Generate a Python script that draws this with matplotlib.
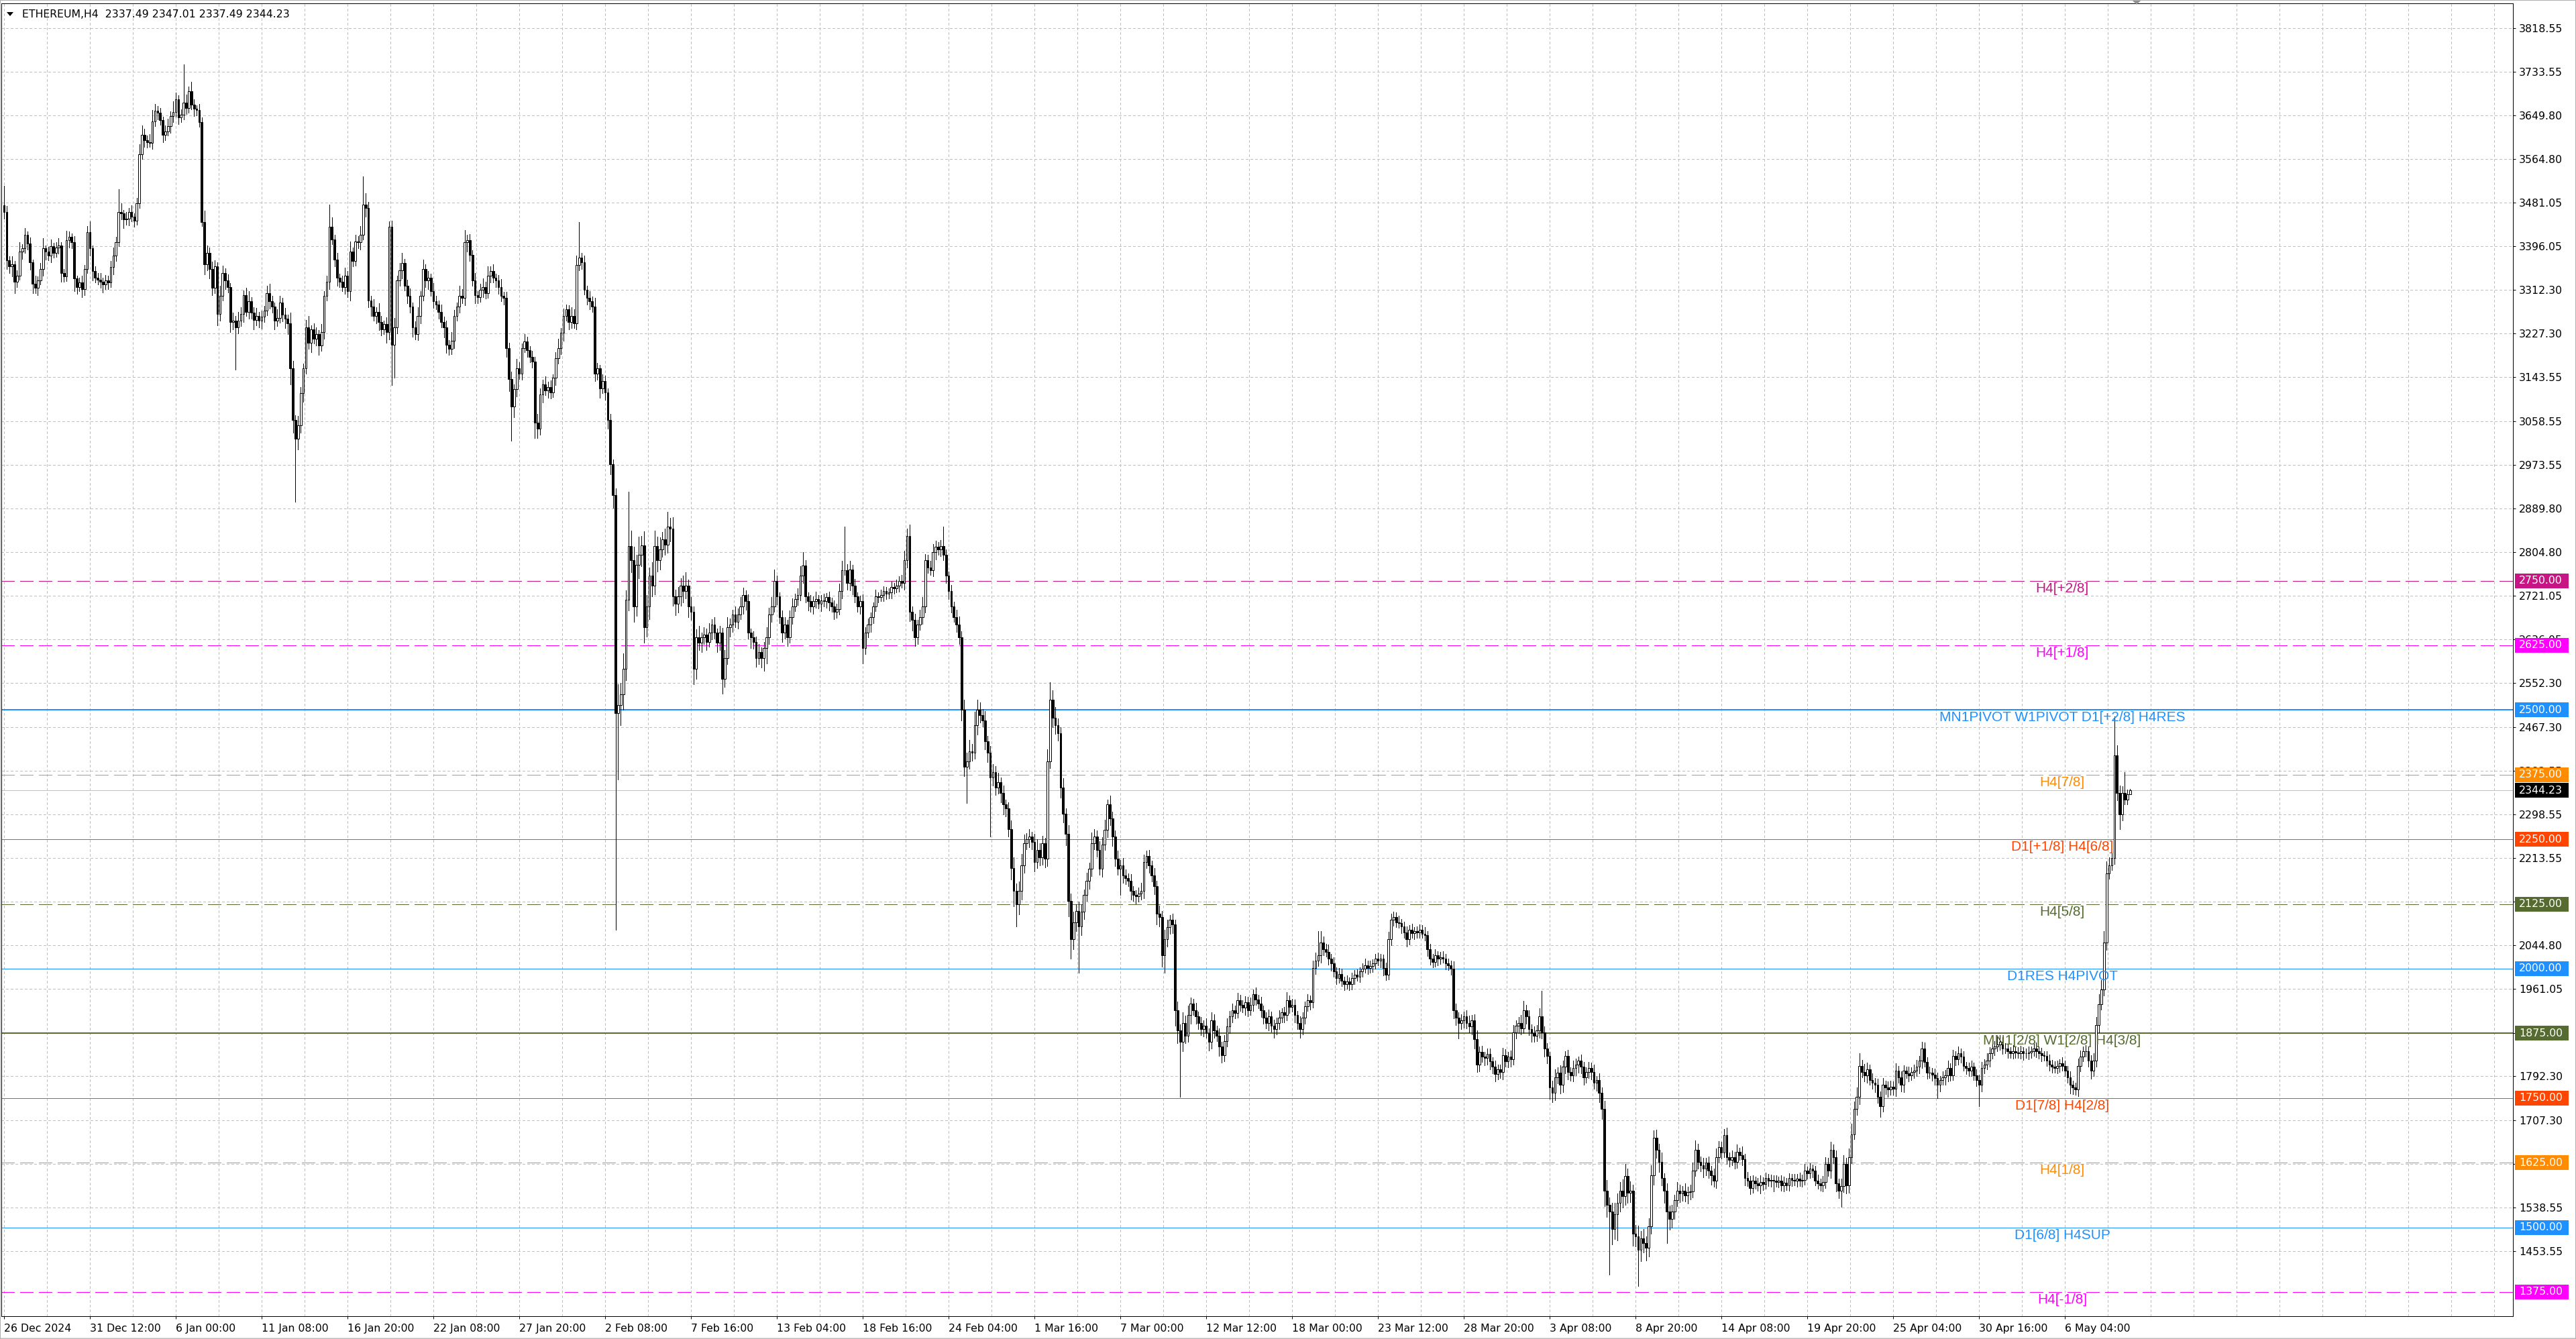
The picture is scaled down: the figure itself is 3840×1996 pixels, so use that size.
#!/usr/bin/env python3
'''
MT4 style H4 candlestick chart of ETHEREUM with pivot / octave levels
'''
import numpy as np
import matplotlib
matplotlib.use('Agg')
import matplotlib.pyplot as plt
import matplotlib.transforms as mtransforms
from matplotlib.patches import Rectangle, Polygon

title_text = 'ETHEREUM,H4  2337.49 2347.01 2337.49 2344.23'

# H4 closes, oldest first (open of each bar = previous close)
first_open = 3476.0
closes = [
    3462, 3369, 3358, 3362, 3328, 3340, 3386, 3392, 3418, 3402,
    3366, 3324, 3316, 3330, 3352, 3392, 3386, 3378, 3396, 3384,
    3394, 3398, 3344, 3338, 3408, 3414, 3404, 3334, 3318, 3326,
    3314, 3352, 3424, 3392, 3348, 3336, 3332, 3328, 3322, 3330,
    3326, 3356, 3378, 3404, 3462, 3460, 3448, 3450, 3462, 3454,
    3446, 3480, 3574, 3612, 3602, 3598, 3596, 3638, 3658, 3654,
    3640, 3612, 3618, 3628, 3648, 3656, 3680, 3646, 3650, 3674,
    3664, 3696, 3670, 3662, 3660, 3637, 3443, 3362, 3384, 3352,
    3316, 3358, 3265, 3300, 3345, 3330, 3318, 3250, 3252, 3240,
    3252, 3266, 3302, 3270, 3290, 3268, 3254, 3262, 3252, 3260,
    3272, 3306, 3290, 3280, 3252, 3258, 3288, 3264, 3256, 3248,
    3160, 3060, 3024, 3050, 3112, 3160, 3240, 3210, 3236, 3218,
    3226, 3204, 3230, 3300, 3328, 3434, 3410, 3370, 3336, 3328,
    3318, 3340, 3310, 3386, 3368, 3406, 3404, 3419, 3477, 3470,
    3291, 3280, 3262, 3270, 3250, 3236, 3246, 3230, 3434, 3206,
    3240, 3330, 3350, 3364, 3320, 3300, 3280, 3240, 3226, 3262,
    3300, 3352, 3330, 3336, 3310, 3290, 3284, 3270, 3250, 3240,
    3206, 3198, 3214, 3262, 3280, 3300, 3296, 3404, 3408, 3380,
    3330, 3302, 3298, 3312, 3318, 3306, 3340, 3348, 3336, 3330,
    3318, 3300, 3296, 3200, 3140, 3086, 3120, 3160, 3150, 3200,
    3212, 3196, 3182, 3174, 3056, 3044, 3110, 3130, 3118, 3124,
    3114, 3142, 3180, 3200, 3229, 3262, 3274, 3250, 3262, 3248,
    3360, 3374, 3366, 3312, 3296, 3290, 3280, 3150, 3160, 3122,
    3136, 3114, 3060, 2975, 2915, 2494, 2510, 2530, 2580, 2713,
    2817, 2790, 2700, 2780, 2800, 2818, 2660, 2700, 2760, 2740,
    2817, 2790, 2810, 2830, 2820, 2855, 2850, 2720, 2705, 2720,
    2740, 2730, 2740, 2700, 2690, 2580, 2640, 2630, 2640, 2646,
    2632, 2650, 2665, 2650, 2630, 2650, 2560, 2600, 2660, 2665,
    2684, 2670, 2684, 2700, 2722, 2710, 2650, 2640, 2632, 2600,
    2612, 2600, 2620, 2640, 2684, 2700, 2750, 2720, 2680, 2650,
    2665, 2640, 2680, 2700, 2715, 2722, 2760, 2779, 2720, 2710,
    2700, 2710, 2715, 2705, 2712, 2710, 2718, 2708, 2700, 2690,
    2695, 2730, 2770, 2770, 2745, 2772, 2740, 2720, 2700, 2710,
    2620, 2650, 2665, 2680, 2700, 2720, 2718, 2722, 2730, 2725,
    2728, 2738, 2735, 2740, 2750, 2745, 2790, 2836, 2690, 2674,
    2640, 2665, 2680, 2700, 2790, 2775, 2770, 2805, 2815, 2810,
    2817, 2800, 2760, 2730, 2700, 2680, 2665, 2640, 2500, 2390,
    2400, 2420, 2418, 2470, 2500, 2490, 2480, 2440, 2417, 2370,
    2380, 2350, 2360, 2340, 2318, 2310, 2270, 2195, 2150, 2125,
    2150, 2200, 2243, 2250, 2255, 2245, 2206, 2230, 2215, 2243,
    2212, 2400, 2520, 2485, 2470, 2455, 2350, 2300, 2261, 2131,
    2057, 2090, 2112, 2081, 2110, 2143, 2170, 2193, 2243, 2255,
    2230, 2193, 2240, 2268, 2317, 2290, 2255, 2212, 2193, 2200,
    2180, 2175, 2170, 2150, 2143, 2140, 2145, 2150, 2206, 2218,
    2200, 2180, 2160, 2106, 2100, 2026, 2057, 2080, 2094, 2085,
    1920, 1880, 1858, 1895, 1870, 1910, 1932, 1920, 1908, 1895,
    1883, 1890, 1876, 1858, 1900, 1880, 1870, 1850, 1833, 1860,
    1889, 1908, 1920, 1914, 1939, 1930, 1925, 1935, 1920, 1930,
    1951, 1940, 1932, 1920, 1905, 1895, 1908, 1890, 1883, 1895,
    1905, 1915, 1910, 1939, 1926, 1930, 1910, 1895, 1883, 1905,
    1927, 1939, 1935, 2001, 2015, 2026, 2050, 2038, 2032, 2019,
    2010, 1995, 1982, 1990, 1976, 1970, 1975, 1970, 1982, 1988,
    1985, 1995, 2000, 2007, 2001, 2005, 2010, 2019, 2015, 2019,
    2001, 1988, 2057, 2094, 2100, 2090, 2088, 2081, 2070, 2057,
    2075, 2069, 2072, 2070, 2075, 2068, 2065, 2038, 2020, 2013,
    2026, 2019, 2022, 2019, 2010, 2007, 2000, 1920, 1905, 1895,
    1900, 1908, 1895, 1889, 1900, 1864, 1814, 1839, 1830, 1827,
    1835, 1821, 1810, 1796, 1805, 1800, 1833, 1821, 1830, 1825,
    1877, 1890, 1895, 1885, 1920, 1908, 1883, 1875, 1870, 1880,
    1908, 1877, 1846, 1831, 1771, 1760, 1790, 1799, 1775, 1810,
    1831, 1800, 1794, 1808, 1815, 1822, 1810, 1790, 1800, 1808,
    1800, 1780, 1785, 1760, 1729, 1571, 1544, 1530, 1497, 1525,
    1548, 1571, 1560, 1599, 1567, 1571, 1488, 1483, 1456, 1479,
    1470, 1460, 1502, 1600, 1673, 1650, 1627, 1595, 1571, 1530,
    1516, 1530, 1553, 1571, 1565, 1571, 1562, 1568, 1570, 1609,
    1650, 1627, 1620, 1613, 1625, 1609, 1600, 1590, 1636, 1655,
    1645, 1678, 1636, 1630, 1636, 1627, 1646, 1640, 1632, 1595,
    1590, 1576, 1590, 1585, 1581, 1588, 1584, 1595, 1590, 1592,
    1590, 1588, 1590, 1581, 1586, 1581, 1595, 1592, 1590, 1594,
    1590, 1592, 1609, 1605, 1613, 1609, 1590, 1585, 1581, 1588,
    1622, 1609, 1650, 1636, 1585, 1571, 1580, 1622, 1581, 1636,
    1680, 1729, 1752, 1812, 1800, 1794, 1805, 1785, 1780, 1775,
    1752, 1734, 1775, 1770, 1766, 1772, 1768, 1803, 1790, 1775,
    1803, 1798, 1794, 1800, 1803, 1810, 1822, 1845, 1820, 1799,
    1799, 1795, 1789, 1775, 1785, 1790, 1794, 1808, 1794, 1831,
    1825, 1836, 1830, 1812, 1808, 1803, 1810, 1794, 1785, 1775,
    1808, 1815, 1822, 1836, 1845, 1850, 1854, 1859, 1845, 1845,
    1840, 1836, 1840, 1838, 1836, 1840, 1836, 1836, 1838, 1840,
    1845, 1840, 1836, 1833, 1831, 1822, 1815, 1810, 1808, 1812,
    1817, 1812, 1803, 1790, 1775, 1770, 1766, 1812, 1830, 1840,
    1840, 1822, 1803, 1822, 1891, 1931, 1960, 2050, 2184, 2199,
    2214, 2412, 2340, 2298, 2340, 2327, 2337.49, 2344.23,
]

# wick above the body and below the body, price units
wick_up = [
    37, 12, 8, 15, 6, 10, 18, 9, 14, 7, 11, 5, 16, 8, 12, 20, 6, 9, 13, 7,
    10, 14, 6, 9, 18, 11, 7, 12, 5, 9, 14, 8, 12, 20, 6, 10, 8, 13, 7, 11,
    9, 12, 16, 10, 45, 18, 7, 12, 9, 14, 6, 10, 20, 18, 12, 8, 15, 22, 14, 9,
    10, 7, 12, 15, 9, 20, 14, 8, 11, 74, 16, 9, 18, 10, 7, 12, 9, 22, 14, 10,
    15, 11, 8, 20, 14, 9, 12, 7, 16, 10, 18, 12, 9, 14, 20, 8, 11, 15, 7, 12,
    9, 14, 18, 10, 7, 16, 12, 9, 13, 8, 20, 15, 10, 18, 12, 9, 14, 22, 8, 11,
    13, 9, 16, 10, 12, 43, 18, 9, 14, 7, 11, 15, 9, 20, 8, 13, 10, 16, 54, 22,
    12, 9, 14, 8, 16, 11, 7, 13, 10, 12, 18, 9, 14, 20, 8, 12, 15, 7, 11, 16,
    10, 18, 9, 13, 7, 15, 11, 8, 14, 10, 12, 9, 16, 11, 7, 20, 13, 24, 10, 12,
    9, 14, 8, 12, 16, 10, 18, 9, 13, 7, 11, 15, 8, 12, 10, 14, 9, 18, 12, 8,
    14, 10, 7, 12, 9, 16, 11, 8, 15, 10, 13, 7, 12, 18, 9, 14, 10, 8, 16, 12,
    18, 69, 10, 12, 8, 14, 9, 16, 11, 7, 13, 10, 8, 12, 9, 14, 40, 22, 30, 18,
    105, 30, 25, 20, 35, 18, 28, 22, 15, 26, 30, 18, 24, 14, 20, 28, 16, 22, 12, 18,
    14, 20, 26, 12, 18, 10, 16, 22, 9, 14, 12, 18, 10, 15, 8, 13, 9, 16, 20, 12,
    10, 16, 12, 18, 14, 9, 13, 8, 12, 10, 15, 9, 12, 20, 14, 18, 22, 10, 8, 12,
    14, 9, 12, 16, 10, 13, 18, 26, 11, 8, 12, 9, 14, 7, 10, 13, 8, 11, 9, 12,
    10, 14, 18, 85, 12, 16, 9, 13, 8, 11, 14, 10, 12, 9, 8, 13, 7, 10, 9, 8,
    7, 10, 8, 12, 9, 11, 18, 14, 22, 10, 12, 9, 14, 18, 11, 10, 13, 16, 12, 9,
    11, 38, 10, 8, 12, 9, 14, 16, 12, 20, 18, 22, 14, 26, 20, 15, 12, 18, 10, 14,
    16, 12, 18, 10, 14, 9, 12, 16, 20, 14, 18, 22, 16, 12, 14, 10, 16, 20, 12, 14,
    10, 24, 33, 18, 20, 14, 12, 18, 10, 16, 14, 20, 12, 18, 14, 10, 16, 12, 20, 14,
    12, 16, 14, 20, 10, 18, 14, 12, 16, 10, 14, 12, 9, 13, 10, 8, 12, 16, 14, 10,
    12, 9, 14, 10, 16, 12, 18, 14, 10, 12, 9, 16, 12, 20, 14, 18, 12, 10, 14, 9,
    12, 10, 14, 9, 16, 12, 10, 14, 9, 12, 15, 10, 12, 8, 14, 11, 9, 12, 10, 14,
    9, 12, 10, 14, 8, 11, 13, 9, 12, 10, 14, 8, 11, 15, 9, 12, 10, 8, 13, 11,
    10, 12, 9, 14, 16, 46, 22, 12, 10, 14, 9, 12, 8, 11, 10, 9, 12, 8, 10, 9,
    11, 8, 10, 12, 9, 11, 8, 10, 12, 9, 8, 11, 14, 12, 10, 9, 12, 8, 10, 11,
    9, 12, 8, 10, 11, 9, 12, 8, 10, 9, 11, 8, 10, 12, 9, 10, 8, 14, 12, 10,
    12, 9, 11, 14, 10, 12, 16, 10, 12, 9, 11, 10, 8, 12, 9, 10, 14, 11, 9, 12,
    14, 10, 12, 16, 18, 10, 12, 9, 14, 11, 16, 49, 12, 10, 8, 12, 16, 10, 14, 12,
    10, 12, 9, 14, 11, 8, 12, 10, 9, 12, 10, 14, 8, 12, 10, 16, 20, 14, 18, 22,
    18, 16, 22, 24, 14, 18, 12, 16, 20, 14, 18, 12, 16, 20, 14, 16, 12, 18, 10, 14,
    12, 14, 10, 16, 12, 9, 14, 10, 12, 16, 18, 12, 10, 14, 9, 12, 10, 14, 16, 12,
    10, 12, 14, 9, 12, 10, 14, 8, 16, 10, 12, 9, 11, 8, 10, 12, 9, 11, 8, 10,
    9, 11, 8, 10, 12, 9, 10, 8, 11, 9, 12, 10, 14, 9, 11, 8, 10, 12, 9, 11,
    14, 12, 16, 10, 12, 9, 14, 18, 12, 16, 20, 14, 18, 24, 12, 16, 14, 10, 12, 9,
    12, 10, 14, 9, 12, 11, 10, 14, 9, 12, 10, 8, 12, 9, 11, 14, 10, 14, 12, 9,
    11, 9, 12, 10, 8, 12, 10, 14, 9, 12, 10, 13, 9, 11, 8, 10, 12, 9, 11, 10,
    12, 10, 14, 12, 16, 10, 14, 12, 9, 11, 10, 8, 12, 9, 10, 11, 8, 10, 12, 9,
    10, 12, 9, 11, 8, 10, 12, 9, 11, 10, 8, 12, 10, 9, 11, 8, 10, 14, 12, 10,
    12, 9, 11, 14, 16, 20, 18, 22, 24, 16, 10, 75, 20, 14, 12, 40, 9, 2.78,
]
wick_down = [
    12, 16, 14, 20, 22, 10, 8, 14, 9, 12, 15, 18, 10, 14, 8, 12, 16, 9, 13, 10,
    8, 12, 16, 10, 9, 14, 11, 25, 13, 9, 16, 12, 8, 14, 18, 10, 9, 12, 15, 8,
    12, 9, 14, 10, 8, 12, 16, 10, 13, 9, 12, 8, 10, 9, 14, 11, 8, 12, 10, 13,
    9, 14, 10, 8, 12, 11, 9, 13, 10, 8, 12, 10, 9, 14, 11, 10, 8, 20, 12, 18,
    14, 10, 22, 12, 9, 16, 11, 20, 14, 82, 12, 10, 16, 9, 14, 11, 18, 10, 12, 15,
    10, 9, 14, 12, 16, 10, 9, 13, 18, 22, 30, 24, 122, 20, 14, 16, 10, 12, 18, 9,
    14, 18, 10, 12, 9, 14, 10, 12, 16, 11, 9, 14, 12, 18, 10, 9, 12, 14, 10, 16,
    12, 18, 10, 14, 16, 12, 9, 20, 14, 78, 64, 12, 10, 16, 9, 14, 12, 18, 10, 11,
    14, 9, 12, 16, 10, 13, 9, 14, 11, 20, 16, 12, 10, 14, 9, 12, 10, 14, 18, 12,
    10, 16, 12, 9, 14, 11, 10, 13, 9, 12, 14, 10, 12, 18, 24, 66, 20, 14, 10, 12,
    9, 14, 10, 12, 30, 18, 12, 16, 10, 14, 12, 9, 14, 10, 12, 16, 9, 14, 12, 10,
    12, 10, 14, 9, 12, 16, 10, 14, 12, 18, 10, 14, 16, 20, 24, 419, 128, 40, 30, 22,
    20, 24, 30, 18, 26, 22, 30, 18, 24, 20, 16, 22, 18, 14, 20, 16, 24, 18, 22, 16,
    18, 22, 14, 20, 16, 30, 20, 14, 18, 12, 16, 10, 14, 12, 18, 14, 28, 16, 12, 18,
    14, 10, 12, 9, 14, 16, 12, 20, 14, 16, 12, 18, 24, 30, 12, 14, 10, 16, 12, 18,
    12, 16, 10, 14, 9, 12, 10, 14, 12, 18, 10, 14, 12, 9, 14, 10, 12, 16, 10, 14,
    12, 10, 14, 9, 12, 14, 16, 12, 10, 14, 30, 12, 10, 14, 12, 9, 10, 8, 12, 10,
    9, 12, 10, 8, 11, 9, 12, 14, 18, 20, 16, 12, 10, 14, 12, 10, 9, 12, 14, 10,
    12, 10, 14, 16, 12, 10, 14, 12, 20, 18, 70, 14, 16, 12, 18, 14, 12, 16, 18, 115,
    16, 14, 12, 18, 20, 16, 14, 22, 30, 44, 20, 16, 14, 12, 16, 14, 18, 12, 16, 14,
    16, 14, 12, 18, 16, 14, 20, 18, 22, 30, 38, 20, 18, 89, 16, 14, 12, 16, 14, 12,
    14, 12, 16, 10, 14, 12, 18, 14, 12, 50, 14, 12, 10, 16, 12, 14, 10, 12, 14, 12,
    14, 12, 16, 20, 18, 22, 34, 14, 12, 16, 30, 24, 106, 18, 14, 12, 16, 10, 14, 12,
    12, 14, 10, 16, 12, 14, 10, 18, 14, 12, 10, 14, 12, 10, 9, 12, 10, 14, 12, 10,
    12, 10, 9, 14, 12, 10, 14, 12, 16, 10, 12, 9, 14, 10, 12, 9, 14, 12, 16, 10,
    12, 9, 14, 10, 12, 10, 14, 12, 9, 11, 14, 10, 12, 9, 10, 12, 9, 11, 10, 12,
    9, 11, 10, 8, 12, 9, 11, 10, 8, 12, 14, 10, 9, 12, 11, 10, 9, 12, 10, 14,
    10, 9, 12, 10, 11, 9, 10, 14, 12, 10, 9, 12, 10, 8, 11, 10, 12, 16, 14, 30,
    12, 14, 10, 12, 16, 18, 14, 12, 10, 14, 12, 16, 12, 14, 10, 12, 14, 10, 12, 14,
    10, 12, 14, 12, 10, 14, 12, 16, 12, 10, 14, 12, 16, 14, 22, 18, 14, 12, 16, 14,
    12, 14, 10, 12, 14, 16, 12, 14, 10, 12, 14, 12, 16, 18, 20, 30, 24, 121, 30, 20,
    50, 18, 22, 16, 20, 18, 24, 20, 70, 22, 18, 24, 16, 14, 18, 16, 20, 14, 24, 60,
    20, 16, 14, 12, 16, 14, 12, 16, 14, 12, 10, 14, 12, 16, 12, 14, 18, 12, 14, 10,
    12, 10, 14, 12, 10, 14, 12, 9, 12, 14, 10, 12, 9, 11, 10, 16, 12, 9, 10, 12,
    20, 9, 11, 10, 12, 9, 10, 12, 9, 11, 10, 12, 9, 11, 10, 12, 9, 11, 10, 12,
    12, 10, 14, 12, 16, 14, 32, 12, 16, 14, 12, 10, 12, 14, 10, 12, 14, 10, 12, 14,
    12, 20, 10, 12, 14, 10, 12, 14, 10, 12, 14, 10, 12, 9, 11, 10, 12, 14, 10, 12,
    10, 12, 14, 25, 12, 10, 14, 12, 10, 9, 12, 10, 11, 9, 12, 10, 11, 9, 12, 41,
    12, 10, 9, 11, 10, 12, 9, 11, 10, 8, 12, 9, 10, 11, 9, 10, 12, 9, 11, 10,
    9, 11, 10, 12, 9, 10, 12, 11, 9, 10, 12, 9, 11, 10, 16, 12, 10, 12, 11, 9,
    10, 12, 16, 11, 12, 14, 10, 12, 14, 10, 9, 12, 14, 28, 12, 10, 9, 0,
]

time_labels = [
    '26 Dec 2024', '31 Dec 12:00', '6 Jan 00:00', '11 Jan 08:00', '16 Jan 20:00',
    '22 Jan 08:00', '27 Jan 20:00', '2 Feb 08:00', '7 Feb 16:00', '13 Feb 04:00',
    '18 Feb 16:00', '24 Feb 04:00', '1 Mar 16:00', '7 Mar 00:00', '12 Mar 12:00',
    '18 Mar 00:00', '23 Mar 12:00', '28 Mar 20:00', '3 Apr 08:00', '8 Apr 20:00',
    '14 Apr 08:00', '19 Apr 20:00', '25 Apr 04:00', '30 Apr 16:00', '6 May 04:00',
]
bars_per_label = 33

price_ticks = [
    3818.55, 3733.55, 3649.80, 3564.80, 3481.05, 3396.05, 3312.30, 3227.30,
    3143.55, 3058.55, 2973.55, 2889.80, 2804.80, 2721.05, 2636.05, 2552.30,
    2467.30, 2382.55, 2298.55, 2213.55, 2129.80, 2044.80, 1961.05, 1876.05,
    1792.30, 1707.30, 1622.55, 1538.55, 1453.55,
]

level_prices = [2750, 2625, 2500, 2375, 2250, 2125, 2000, 1875, 1750, 1625, 1500, 1375]
level_names = [
    'H4[+2/8]', 'H4[+1/8]', 'MN1PIVOT W1PIVOT D1[+2/8] H4RES', 'H4[7/8]',
    'D1[+1/8] H4[6/8]', 'H4[5/8]', 'D1RES H4PIVOT', 'MN1[2/8] W1[2/8] H4[3/8]',
    'D1[7/8] H4[2/8]', 'H4[1/8]', 'D1[6/8] H4SUP', 'H4[-1/8]',
]
last_price = 2344.23

# ---- styling (pixels of the 3840x1996 canvas) ----
W, H, DPI = 3840, 1996, 100
PX = 72.0 / DPI
level_style = {
    'H4[+2/8]': ('#C71585', True, 1),
    'H4[+1/8]': ('#FF00FF', True, 1),
    'MN1PIVOT W1PIVOT D1[+2/8] H4RES': ('#1E90FF', False, 2),
    'H4[7/8]': ('#FF8C00', True, 1),
    'D1[+1/8] H4[6/8]': ('#FF4500', False, 1),
    'H4[5/8]': ('#556B2F', True, 1),
    'D1RES H4PIVOT': ('#1E90FF', False, 1),
    'MN1[2/8] W1[2/8] H4[3/8]': ('#556B2F', False, 2),
    'D1[7/8] H4[2/8]': ('#FF4500', False, 1),
    'H4[1/8]': ('#FF8C00', True, 1),
    'D1[6/8] H4SUP': ('#1E90FF', False, 1),
    'H4[-1/8]': ('#FF00FF', True, 1),
}

plt.rcParams['font.family'] = ['DejaVu Sans']
plt.rcParams['lines.scale_dashes'] = False

ax_left, ax_right, ax_top, ax_bottom = 2, 3746, 5, 1962
bar_px, bar0_px = 3.879, 6.0
px_price, y_ref, p_ref = 1.2967, 41.5, 3818.55

fig = plt.figure(figsize=(W / DPI, H / DPI), dpi=DPI)
fig.patch.set_facecolor('white')
ax = fig.add_axes([ax_left / W, 1 - ax_bottom / H,
                   (ax_right - ax_left) / W, (ax_bottom - ax_top) / H])
ax.set_xlim((ax_left - bar0_px) / bar_px, (ax_right - bar0_px) / bar_px)
ax.set_ylim(p_ref - (ax_bottom - y_ref) * px_price,
            p_ref + (y_ref - ax_top) * px_price)

# grid
grid_dash = (3 * PX, 3 * PX)
for k in range(int((ax_right - bar0_px) / 64) + 1):
    ax.axvline(k * bars_per_label / 2, color='#c0c0c0', lw=PX,
               dashes=grid_dash, zorder=1, antialiased=False)
for p in price_ticks:
    ax.axhline(p, color='#c0c0c0', lw=PX, dashes=grid_dash, zorder=1,
               antialiased=False)

# levels
blend = mtransforms.blended_transform_factory(ax.transAxes, ax.transData)
label_x = (3074 - ax_left) / (ax_right - ax_left)
for price, name in zip(level_prices, level_names):
    color, dashed, width = level_style[name]
    kw = dict(dashes=(20 * PX, 9 * PX)) if dashed else {}
    ax.axhline(price, color=color, lw=width * PX, zorder=2,
               antialiased=False, **kw)
    ax.annotate(name, xy=(label_x, price), xycoords=blend,
                xytext=(0, -1.5), textcoords='offset points',
                ha='center', va='top', color=color, fontsize=15,
                family='Liberation Sans', zorder=6)
ax.axhline(last_price, color='#c0c0c0', lw=PX, zorder=2, antialiased=False)

# candles
c = np.array(closes, dtype=float)
o = np.r_[first_open, c[:-1]]
hi = np.maximum(o, c) + np.array(wick_up, dtype=float)
lo = np.minimum(o, c) - np.array(wick_down, dtype=float)
x = np.arange(len(c))
ax.vlines(x, lo, hi, colors='black', linewidth=PX, zorder=3,
          antialiased=False)
bull = c >= o
ax.bar(x[bull], (c - o)[bull], bottom=o[bull], width=0.7,
       facecolor='white', edgecolor='black', linewidth=PX, zorder=4)
ax.bar(x[~bull], (o - c)[~bull], bottom=c[~bull], width=0.7,
       facecolor='black', edgecolor='black', linewidth=PX, zorder=4)

# price boxes on the right scale
box_h = 22 * px_price
box_x = (ax_right + 3 - ax_left) / (ax_right - ax_left)
box_w = 80 / (ax_right - ax_left)
txt_x = (ax_right + 9 - ax_left) / (ax_right - ax_left)
boxes = [(p, level_style[n][0]) for p, n in zip(level_prices, level_names)]
boxes.append((last_price, 'black'))
for price, color in boxes:
    ax.add_patch(Rectangle((box_x, price - box_h / 2), box_w, box_h,
                           transform=blend, facecolor=color, edgecolor='none',
                           clip_on=False, zorder=7))
    ax.text(txt_x, price, f'{price:.2f}', transform=blend, color='white',
            ha='left', va='center', fontsize=11.3, clip_on=False, zorder=8)

# axes
for sp in ax.spines.values():
    sp.set_color('black')
    sp.set_linewidth(PX)
ax.yaxis.tick_right()
ax.set_yticks(price_ticks)
ax.set_yticklabels([f'{p:.2f}' for p in price_ticks])
ax.tick_params(axis='y', length=4 * PX, width=PX, pad=5 * PX,
               labelsize=11.3, colors='black')
ax.set_xticks([k * bars_per_label for k in range(len(time_labels))])
ax.set_xticklabels(time_labels, ha='left')
ax.tick_params(axis='x', length=4 * PX, width=PX, pad=7 * PX,
               labelsize=11.3, colors='black')

# title and chart furniture
fig.text(33 / W, 1 - 22 / H, title_text, ha='left', va='center',
         fontsize=11.3, color='black')
fig.patches.append(Polygon([(10 / W, 1 - 18 / H), (20 / W, 1 - 18 / H),
                            (15 / W, 1 - 24 / H)], closed=True,
                           transform=fig.transFigure, facecolor='black',
                           edgecolor='none'))
fig.patches.append(Polygon([(3179 / W, 1 - 1 / H), (3191 / W, 1 - 1 / H),
                            (3185 / W, 1 - 7 / H)], closed=True,
                           transform=fig.transFigure, facecolor='#909090',
                           edgecolor='none', zorder=10))
fig.patches.append(Rectangle((0, 0), 1, 3 / H, transform=fig.transFigure,
                             facecolor='#f0f0f0', edgecolor='none'))
fig.patches.append(Rectangle((0, 0), 1, 1, transform=fig.transFigure,
                             fill=False, edgecolor='#b0b0b0', linewidth=2 * PX))

fig.savefig('out.png', dpi=DPI)
